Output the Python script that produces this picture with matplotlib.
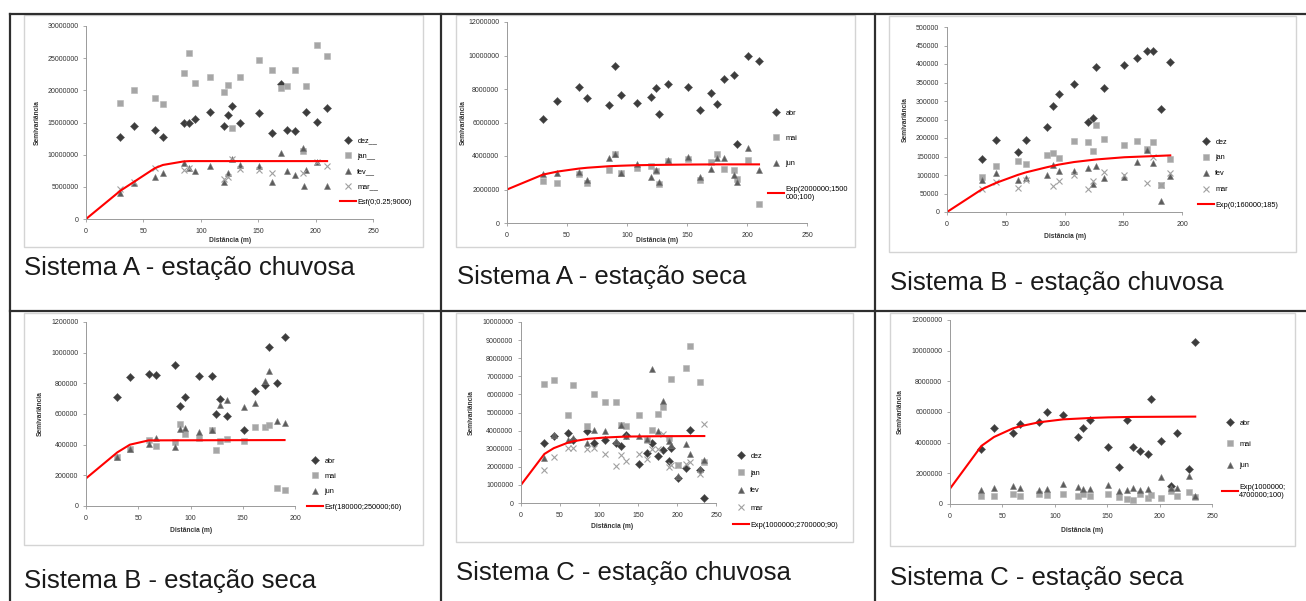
import numpy as np
import matplotlib.pyplot as plt
from matplotlib.patches import Rectangle

W, H = 1306, 601
plt.rcParams['font.family'] = ['Liberation Sans', 'DejaVu Sans']
nan = np.nan

# ---------------- Sistema A - estação chuvosa (valores em milhões) ----------------
a1_lags = [30, 42, 60, 67, 85, 90, 95, 108, 120, 124, 127, 134, 151, 162, 170, 175, 182, 189, 190, 192, 201, 210]
a1_dez = [12.7, 14.4, 13.9, 12.8, 15.0, 15.0, 15.5, 16.7, 14.5, 16.2, 17.5, 15.0, 16.4, 13.4, 21.0, 13.9, 13.7, nan, nan, 16.7, 15.1, 17.3]
a1_jan = [18.1, 20.1, 18.8, 17.9, 22.7, 25.8, 21.2, 22.1, 19.8, 20.8, 14.2, 22.0, 24.7, 23.2, 20.3, 20.7, 23.2, 10.5, nan, 20.6, 27.1, 25.4]
a1_fev = [4.0, 5.6, 6.6, 7.1, 8.7, 8.0, 7.5, 8.2, 5.8, 7.2, 9.3, 8.4, 8.2, 5.8, 10.3, 7.5, 6.9, 11.0, 5.2, 7.6, 8.8, 5.1]
a1_mar = [4.6, 5.7, 7.9, nan, 7.6, 7.9, nan, nan, 6.2, 6.6, 9.3, 7.7, 7.6, 7.1, nan, nan, nan, 7.2, nan, nan, 8.9, 8.3]
a1_mod_h = [0, 30, 42, 60, 67, 85, 90, 210]
a1_mod_g = [0, 4.4, 5.8, 7.9, 8.4, 8.95, 9.0, 9.0]

# ---------------- Sistema A - estação seca (milhões) ----------------
a2_lags = [30, 42, 60, 67, 85, 90, 95, 108, 120, 124, 127, 134, 151, 161, 170, 175, 181, 189, 192, 201, 210]
a2_abr = [6.19, 7.28, 8.12, 7.48, 7.02, 9.37, 7.62, 7.16, 7.54, 8.04, 6.53, 8.28, 8.12, 6.77, 7.78, 7.08, 8.62, 8.86, 4.74, 9.95, 9.65]
a2_mai = [2.5, 2.39, 2.95, 2.39, 3.14, 4.1, 2.98, 3.28, 3.38, 3.1, 2.35, 3.7, 3.84, 2.55, 3.64, 4.14, 3.24, 3.14, 2.65, 3.78, 1.15]
a2_jun = [2.95, 2.98, 3.04, 2.55, 3.9, 4.14, 3.0, 3.5, 2.75, 3.18, 2.45, 3.74, 3.94, 2.75, 3.22, 3.9, 3.9, 2.85, 2.45, 4.46, 3.14]
a2_mod_h = [0, 30, 42, 60, 67, 85, 95, 108, 127, 151, 175, 210]
a2_mod_g = [2.0, 2.89, 3.07, 3.25, 3.3, 3.39, 3.42, 3.45, 3.47, 3.49, 3.5, 3.5]

# ---------------- Sistema B - estação chuvosa (milhares) ----------------
b1_lags = [30, 42, 60, 67, 85, 90, 95, 108, 120, 124, 127, 134, 151, 162, 170, 175, 182, 190]
b1_dez = [144, 195, 162, 195, 230, 286, 320, 346, 243, 254, 392, 334, 397, 417, 435, 435, 279, 406]
b1_jan = [94, 123, 137, 130, 155, 159, 146, 193, 188, 166, 236, 198, 180, 191, 170, 188, 73, 143]
b1_fev = [87, 105, 87, 92, 99, 128, 110, 112, 119, 75, 123, 93, 94, 134, 168, 132, 30, 96]
b1_mar = [63, 80, 66, 87, nan, 69, 83, 101, 63, 83, nan, 107, 101, nan, 78, 150, 74, 105]
b1_mod_h = [0, 30, 42, 60, 67, 85, 95, 108, 127, 151, 175, 190]
b1_mod_g = [0, 62, 79, 100, 107, 121, 128, 135, 142, 148, 151, 153]

# ---------------- Sistema B - estação seca (milhares) ----------------
b2_lags = [30, 42, 60, 67, 85, 90, 95, 108, 121, 124, 128, 135, 151, 162, 171, 175, 183, 190]
b2_abr = [711, 839, 859, 852, 922, 652, 709, 846, 848, 602, 700, 587, 498, 752, 787, 1037, 804, 1102]
b2_mai = [320, 374, 428, 389, 417, 537, 472, 446, 493, 367, 422, 435, 422, 515, 515, 530, 120, 107]
b2_jun = [320, 374, 406, 446, 385, 500, 509, 483, 493, nan, 657, 693, 646, 674, 813, 880, 552, 541]
b2_mod_h = [0, 30, 42, 60, 190]
b2_mod_g = [180, 350, 400, 428, 430]

# ---------------- Sistema C - estação chuvosa (milhões) ----------------
c1_lags = [30, 42, 60, 67, 85, 93, 108, 122, 128, 135, 151, 162, 168, 175, 182, 190, 192, 201, 211, 217, 229, 235]
c1_dez = [3.31, 3.7, 3.85, 3.5, 3.98, 3.31, 3.46, 3.31, 3.13, 3.78, 2.14, 2.76, 3.31, 2.58, 2.91, 2.32, 3.04, 1.38, 1.93, 4.01, 1.84, 0.29]
c1_jan = [6.56, 6.81, 4.88, 6.54, 4.25, 6.04, 5.6, 5.6, 4.3, 4.25, 4.84, 3.5, 4.01, 4.9, 5.3, 3.6, 6.87, 2.12, 7.48, 8.67, 6.68, 2.27]
c1_fev = [2.5, 3.74, 3.46, 3.6, 3.3, 4.05, 3.96, 3.4, 4.33, 3.7, 3.7, 3.52, 7.42, 4.0, 5.62, 3.4, 3.2, 1.5, 3.28, 2.69, 1.9, 2.36]
c1_mar = [1.84, 2.54, 3.04, 3.06, 3.0, 3.04, 2.69, 2.04, 2.63, 2.3, 2.73, 2.45, 3.0, 2.97, 3.83, 1.99, 2.1, 2.1, 2.17, 2.26, 1.62, 4.38]
c1_mod_h = [0, 30, 42, 60, 67, 85, 108, 135, 175, 235]
c1_mod_g = [1.0, 2.71, 3.03, 3.33, 3.41, 3.54, 3.62, 3.67, 3.69, 3.7]

# ---------------- Sistema C - estação seca (milhões) ----------------
c2_lags = [30, 42, 60, 67, 85, 93, 108, 122, 127, 134, 151, 161, 169, 175, 181, 189, 192, 201, 211, 217, 228, 234]
c2_abr = [3.6, 4.95, 4.64, 5.23, 5.38, 5.99, 5.82, 4.34, 4.95, 5.49, 3.69, 2.41, 5.45, 3.71, 3.47, 3.26, 6.84, 4.12, 1.2, 4.6, 2.28, 10.55]
c2_mai = [0.54, 0.5, 0.67, 0.54, 0.65, 0.61, 0.67, 0.54, 0.67, 0.5, 0.65, 0.46, 0.35, 0.28, 0.65, 0.39, 0.6, 0.39, 0.87, 0.5, 0.78, 0.43]
c2_jun = [0.93, 1.04, 1.15, 1.04, 0.93, 1.0, 1.3, 1.08, 1.0, 0.98, 1.26, 0.85, 0.93, 1.04, 0.9, 1.0, nan, 1.76, 1.04, 1.04, 1.8, 0.5]
c2_mod_h = [0, 30, 42, 60, 67, 85, 108, 134, 151, 175, 234]
c2_mod_g = [1.0, 3.79, 4.37, 4.93, 5.07, 5.33, 5.52, 5.61, 5.65, 5.68, 5.7]

# marcadores na ordem das séries (estilo Excel em tons de cinza)
estilos = [
    dict(marker='D', color='#3c3c3c', ms=3.7, mec='#5a5a5a', mew=0.4),
    dict(marker='s', color='#a6a6a6', ms=4.0, mec='#b5b5b5', mew=0.4),
    dict(marker='^', color='#5c5c5c', ms=4.3, mec='#7a7a7a', mew=0.4),
    dict(marker='x', color='#a0a0a0', ms=4.8, mew=0.8),
]

fig = plt.figure(figsize=(W / 100, H / 100), dpi=100)
bg = fig.add_axes([0, 0, 1, 1])
bg.set_xlim(0, W)
bg.set_ylim(H, 0)
bg.axis('off')

# linhas da tabela
lc = '#2e2e2e'
bg.plot([10, W], [14, 14], color=lc, lw=1.6)
bg.plot([10, W], [311, 311], color=lc, lw=1.6)
for xv in (10, 441, 875):
    bg.plot([xv, xv], [14, H], color=lc, lw=1.6)


def painel(caixa, area, xmax, xstep, ymax, ystep, escala, lags, series, nomes,
           mod_h, mod_g, mod_nome, leg, legsp, ylab_x, xlab, titulo, tit_xy):
    x0, y0, x1, y1 = caixa
    bg.add_patch(Rectangle((x0, y0), x1 - x0, y1 - y0, fill=False, ec='#d4d4d4', lw=1.0))
    px0, px1, pyb, pyt = area
    ax = fig.add_axes([px0 / W, 1 - pyb / H, (px1 - px0) / W, (pyb - pyt) / H])
    ax.patch.set_alpha(0)
    hs = []
    for vals, st in zip(series, estilos):
        ln, = ax.plot(lags, np.array(vals) * escala, ls='none', clip_on=False, **st)
        hs.append(ln)
    ln, = ax.plot(mod_h, np.array(mod_g) * escala, color='#ff0000', lw=1.5)
    hs.append(ln)
    ax.set_xlim(0, xmax)
    ax.set_ylim(0, ymax)
    xt = list(range(0, xmax + 1, xstep))
    yt = list(range(0, ymax + 1, ystep))
    ax.set_xticks(xt, [str(v) for v in xt])
    ax.set_yticks(yt, [str(v) for v in yt])
    for s in ('top', 'right'):
        ax.spines[s].set_visible(False)
    for s in ('left', 'bottom'):
        ax.spines[s].set_color('#9a9a9a')
        ax.spines[s].set_linewidth(0.7)
    ax.tick_params(axis='both', direction='out', length=2.5, width=0.6, color='#9a9a9a',
                   labelsize=5, labelcolor='#333333')
    ax.tick_params(axis='x', pad=4)
    ax.tick_params(axis='y', pad=3)
    ax.legend(hs, nomes + [mod_nome], loc='upper left',
              bbox_to_anchor=(leg[0] / W, 1 - (leg[1] - 3.5) / H), bbox_transform=fig.transFigure,
              frameon=False, fontsize=5.3, borderpad=0, borderaxespad=0, handlelength=2.2,
              handletextpad=0.15, labelspacing=legsp, numpoints=1)
    bg.text(ylab_x, (pyb + pyt) / 2, 'Semivariância', rotation=90, ha='center', va='center',
            fontsize=4.8, fontweight='bold', color='#333333')
    bg.text(xlab[0], xlab[1], 'Distância (m)', ha='center', va='center',
            fontsize=4.8, fontweight='bold', color='#333333')
    bg.text(tit_xy[0], tit_xy[1], titulo, ha='left', va='center', fontsize=18.5, color='#1a1a1a')


painel((24, 15, 423, 247), (86, 373, 219, 26), 250, 50, 30000000, 5000000, 1e6,
       a1_lags, [a1_dez, a1_jan, a1_fev, a1_mar], ['dez__', 'jan__', 'fev__', 'mar__'],
       a1_mod_h, a1_mod_g, 'Esf(0;0.25;9000)', (340, 141), 1.11, 37, (230, 241),
       'Sistema A - estação chuvosa', (24, 268))

painel((456, 15, 855, 247), (507, 807, 223, 22), 250, 50, 12000000, 2000000, 1e6,
       a2_lags, [a2_abr, a2_mai, a2_jun], ['abr', 'mai', 'jun'],
       a2_mod_h, a2_mod_g, 'Exp(2000000;1500\n000;100)', (768, 113), 2.47, 463, (657, 240),
       'Sistema A - estação seca', (457, 277))

painel((889, 16, 1296, 252), (947, 1182, 212, 27), 200, 50, 500000, 50000, 1e3,
       b1_lags, [b1_dez, b1_jan, b1_fev, b1_mar], ['dez', 'jan', 'fev', 'mar'],
       b1_mod_h, b1_mod_g, 'Exp(0;160000;185)', (1198, 142), 1.18, 905, (1065, 237),
       'Sistema B - estação chuvosa', (890, 283))

painel((24, 313, 423, 545), (86, 295, 506, 322), 200, 50, 1200000, 200000, 1e3,
       b2_lags, [b2_abr, b2_mai, b2_jun], ['abr', 'mai', 'jun'],
       b2_mod_h, b2_mod_g, 'Esf(180000;250000;60)', (307, 461), 1.11, 40, (191, 530),
       'Sistema B - estação seca', (24, 581))

painel((456, 313, 853, 542), (521, 716, 503, 322), 250, 50, 10000000, 1000000, 1e6,
       c1_lags, [c1_dez, c1_jan, c1_fev, c1_mar], ['dez', 'jan', 'fev', 'mar'],
       c1_mod_h, c1_mod_g, 'Exp(1000000;2700000;90)', (733, 456), 1.38, 471, (612, 527),
       'Sistema C - estação chuvosa', (456, 573))

painel((890, 313, 1295, 546), (950, 1212, 504, 320), 250, 50, 12000000, 2000000, 1e6,
       c2_lags, [c2_abr, c2_mai, c2_jun], ['abr', 'mai', 'jun'],
       c2_mod_h, c2_mod_g, 'Exp(1000000;\n4700000;100)', (1222, 423), 1.93, 900, (1082, 530),
       'Sistema C - estação seca', (890, 578))

fig.savefig('out.png', dpi=100)
